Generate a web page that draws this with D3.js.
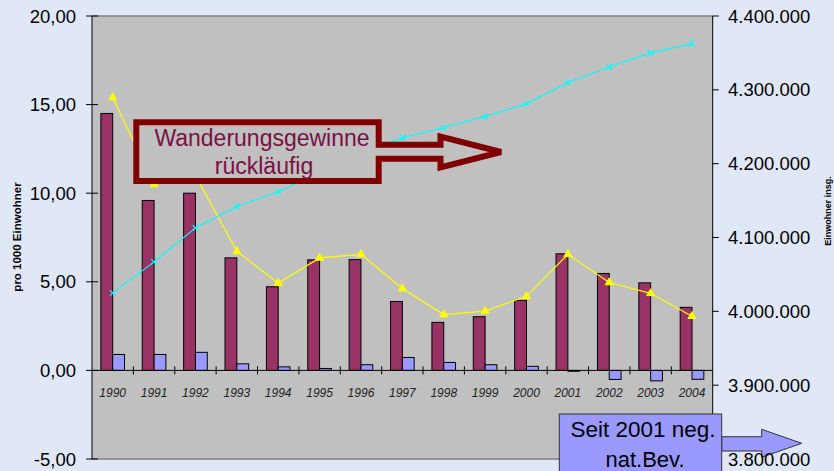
<!DOCTYPE html>
<html><head><meta charset="utf-8">
<script src="https://cdnjs.cloudflare.com/ajax/libs/d3/7.8.5/d3.min.js"></script>
<style>
html,body{margin:0;padding:0;background:#e0e8f8;}
svg{display:block;font-family:"Liberation Sans",Arial,sans-serif;}
</style></head><body>
<svg id="chart" width="834" height="471"></svg>
<script>
// ---- data ----
const years = ["1990","1991","1992","1993","1994","1995","1996","1997","1998","1999","2000","2001","2002","2003","2004"];
const wanderung = [14.50, 9.59, 10.00, 6.35, 4.72, 6.24, 6.25, 3.89, 2.71, 3.03, 3.95, 6.58, 5.47, 4.94, 3.56];
const natBev = [0.90, 0.90, 1.02, 0.37, 0.20, 0.11, 0.32, 0.73, 0.45, 0.32, 0.23, -0.05, -0.51, -0.59, -0.50];
const gesamt = [15.40, 10.50, 11.00, 6.72, 4.92, 6.35, 6.55, 4.62, 3.15, 3.35, 4.18, 6.55, 4.96, 4.35, 3.06];
const einwohner = [4025000, 4067000, 4113000, 4142000, 4162000, 4188000, 4215000, 4235000, 4249000, 4264000, 4281000, 4310000, 4331000, 4350000, 4362500];
const leftTicks = [-5, 0, 5, 10, 15, 20];
const rightTicks = [3800000, 3900000, 4000000, 4100000, 4200000, 4300000, 4400000];
const leftTitle = "pro 1000 Einwohner";
const rightTitle = "Einwohner insg.";

const svg = d3.select("#chart");
const L = 92, R = 712.7, T = 16, B = 459;
const de = d3.formatLocale({decimal: ",", thousands: ".", grouping: [3], currency: ["", "€"], minus: "-"});
const fL = de.format(",.2f"), fR = de.format(",d");

const x = d3.scaleBand().domain(years).range([L, R]).paddingInner(0).paddingOuter(0);
const xs = d3.scaleBand().domain(["w", "n"]).range([0, x.bandwidth()]).paddingInner(0).paddingOuter(0.75);
const yL = d3.scaleLinear().domain([-5, 20]).range([B, T]);
const yR = d3.scaleLinear().domain([3800000, 4400000]).range([B, T]);

// plot area
svg.append("rect").attr("x", L).attr("y", T).attr("width", R - L).attr("height", B - T).attr("fill", "#c0c0c0");
svg.append("line").attr("x1", L).attr("x2", R).attr("y1", T).attr("y2", T).attr("stroke", "#808080").attr("stroke-width", 1.5);
svg.append("line").attr("x1", L).attr("x2", R).attr("y1", B).attr("y2", B).attr("stroke", "#808080").attr("stroke-width", 1.5);

// bars
const g = svg.append("g");
years.forEach((yr, i) => {
  const v1 = wanderung[i], v2 = natBev[i];
  g.append("rect").attr("x", x(yr) + xs("w")).attr("width", xs.bandwidth())
    .attr("y", yL(Math.max(0, v1))).attr("height", Math.abs(yL(v1) - yL(0)))
    .attr("fill", "#993366").attr("stroke", "#000").attr("stroke-width", 1);
  g.append("rect").attr("x", x(yr) + xs("n")).attr("width", xs.bandwidth())
    .attr("y", yL(Math.max(0, v2))).attr("height", Math.max(0.6, Math.abs(yL(v2) - yL(0))))
    .attr("fill", "#9999ff").attr("stroke", "#000").attr("stroke-width", 1);
});

// x axis
svg.append("line").attr("x1", L).attr("x2", R).attr("y1", yL(0)).attr("y2", yL(0)).attr("stroke", "#000");
years.forEach((yr, i) => {
  if (i > 0) svg.append("line").attr("x1", x(yr)).attr("x2", x(yr)).attr("y1", yL(0) - 4).attr("y2", yL(0) + 4).attr("stroke", "#000");
  svg.append("text").attr("x", x(yr) + x.bandwidth() / 2).attr("y", yL(0) + 27)
    .attr("text-anchor", "middle").attr("font-size", 12).attr("font-style", "italic").attr("fill", "#222").text(yr);
});

// lines
const cx = (d, i) => x(years[i]) + x.bandwidth() / 2;
svg.append("path").datum(gesamt).attr("fill", "none").attr("stroke", "#ffff00").attr("stroke-width", 1.2)
  .attr("d", d3.line().x(cx).y(d => yL(d)));
svg.selectAll(".tri").data(gesamt).enter().append("path")
  .attr("transform", (d, i) => `translate(${cx(d, i)},${yL(d)})`)
  .attr("d", d3.symbol(d3.symbolTriangle, 28)).attr("fill", "#ffff00").attr("stroke", "#ffff00");
svg.append("path").datum(einwohner).attr("fill", "none").attr("stroke", "#00ffff").attr("stroke-width", 1.2)
  .attr("d", d3.line().x(cx).y(d => yR(d)));
svg.selectAll(".xm").data(einwohner).enter().append("path")
  .attr("transform", (d, i) => `translate(${cx(d, i)},${yR(d)})`)
  .attr("d", d3.symbol(d3.symbolX, 22)).attr("fill", "none").attr("stroke", "#00ffff").attr("stroke-width", 1.2);

// left axis
svg.append("line").attr("x1", L).attr("x2", L).attr("y1", T).attr("y2", B).attr("stroke", "#000");
leftTicks.forEach(t => {
  svg.append("line").attr("x1", L - 6).attr("x2", L + 6).attr("y1", yL(t)).attr("y2", yL(t)).attr("stroke", "#000");
  svg.append("text").attr("x", 76).attr("y", yL(t)).attr("dy", "0.36em").attr("text-anchor", "end")
    .attr("font-size", 18.5).attr("fill", "#000").text(fL(t));
});
svg.append("text").attr("transform", "translate(21,237) rotate(-90)").attr("text-anchor", "middle")
  .attr("font-size", 11.5).attr("font-weight", "bold").text(leftTitle);

// annotation 1: Wanderungsgewinne rückläufig
svg.append("path")
  .attr("d", "M136.3,122.3 L378.7,122.3 L378.7,144.7 L440.5,144.7 L440.5,136.5 L501,152 L440.5,167.5 L440.5,158.7 L378.7,158.7 L378.7,181 L136.3,181 Z")
  .attr("fill", "#c0c0c0").attr("stroke", "#800000").attr("stroke-width", 6).attr("stroke-miterlimit", 3);
svg.append("text").attr("x", 262).attr("y", 146).attr("text-anchor", "middle").attr("font-size", 23).attr("fill", "#7a1043").text("Wanderungsgewinne");
svg.append("text").attr("x", 264).attr("y", 173.5).attr("text-anchor", "middle").attr("font-size", 23).attr("fill", "#7a1043").text("rückläufig");

// right axis
svg.append("line").attr("x1", R).attr("x2", R).attr("y1", T).attr("y2", B).attr("stroke", "#000");
svg.append("text").attr("transform", "translate(831,211) rotate(-90)").attr("text-anchor", "middle")
  .attr("font-size", 9).attr("font-weight", "bold").text(rightTitle);

// annotation 2: Seit 2001 neg. nat.Bev.
svg.append("path").attr("d", "M721.7,436.7 L761.7,436.7 L761.7,429.3 L801.7,443.3 L761.7,457.3 L761.7,451 L721.7,451 Z")
  .attr("fill", "#9999ff").attr("stroke", "#333").attr("stroke-width", 1);
svg.append("rect").attr("x", 559.3).attr("y", 414).attr("width", 162.4).attr("height", 70)
  .attr("fill", "#9999ff").attr("stroke", "#333").attr("stroke-width", 1);
svg.append("text").attr("x", 643).attr("y", 437.3).attr("text-anchor", "middle").attr("font-size", 22.5).attr("fill", "#000").text("Seit 2001 neg.");
svg.append("text").attr("x", 645).attr("y", 466.5).attr("text-anchor", "middle").attr("font-size", 22).attr("fill", "#000").text("nat.Bev.");

rightTicks.forEach(t => {
  if (yR(t) < 410) svg.append("line").attr("x1", R).attr("x2", R + 6).attr("y1", yR(t)).attr("y2", yR(t)).attr("stroke", "#000");
  svg.append("text").attr("x", 728).attr("y", yR(t)).attr("dy", "0.36em")
    .attr("font-size", 18.5).attr("fill", "#000").text(fR(t));
});
</script>
</body></html>
